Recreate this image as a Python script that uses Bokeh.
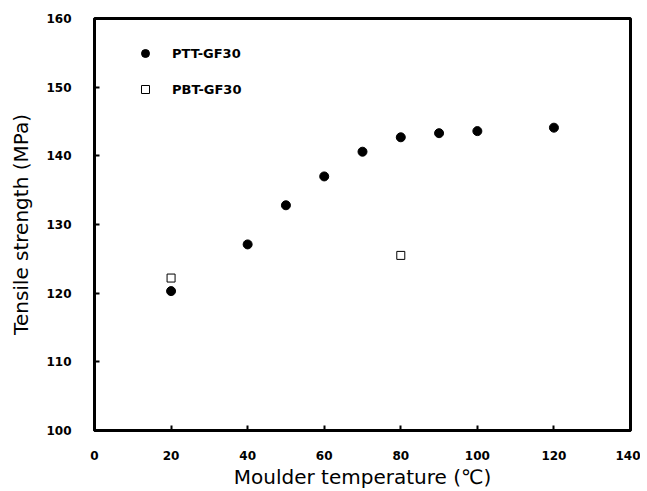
from bokeh.plotting import figure
from bokeh.models import Range1d, FixedTicker, Legend, LegendItem
from bokeh.embed import file_html
from bokeh.resources import INLINE

ptt_temp = [20, 40, 50, 60, 70, 80, 90, 100, 120]
ptt_strength = [120.3, 127.1, 132.8, 137.0, 140.6, 142.7, 143.3, 143.6, 144.1]
pbt_temp = [20, 80]
pbt_strength = [122.2, 125.5]
x_ticks = [0, 20, 40, 60, 80, 100, 120, 140]
y_ticks = [100, 110, 120, 130, 140, 150, 160]

p = figure(width=640, height=491, output_backend="svg", toolbar_location=None,
           x_range=Range1d(0, 140), y_range=Range1d(100, 160),
           min_border_left=94, min_border_right=10, min_border_top=18, min_border_bottom=61)
p.grid.visible = False
p.outline_line_color = "black"
p.outline_line_width = 3
p.background_fill_color = "white"
p.border_fill_color = "white"

r1 = p.scatter(ptt_temp, ptt_strength, marker="circle", size=9, fill_color="black", line_color="black")
r2 = p.scatter(pbt_temp, pbt_strength, marker="square", size=8, fill_color="white", line_color="black", line_width=1)

for ax, ticks in ((p.xaxis[0], x_ticks), (p.yaxis[0], y_ticks)):
    ax.ticker = FixedTicker(ticks=ticks)
    ax.axis_line_color = "black"
    ax.axis_line_width = 3
    ax.major_tick_in = 5
    ax.major_tick_out = 0
    ax.major_tick_line_width = 2
    ax.minor_tick_line_color = None
    ax.major_label_text_font = "DejaVu Sans"
    ax.major_label_text_font_style = "bold"
    ax.major_label_text_font_size = "12px"
    ax.major_label_text_color = "black"
    ax.axis_label_text_font = "DejaVu Sans"
    ax.axis_label_text_font_style = "normal"
    ax.axis_label_text_font_size = "20px"
    ax.axis_label_text_color = "black"

p.xaxis.axis_label = "Moulder temperature (\u2103)"
p.yaxis.axis_label = "Tensile strength (MPa)"
p.xaxis.major_label_standoff = 20
p.yaxis.major_label_standoff = 23
p.xaxis.axis_label_standoff = 2
p.yaxis.axis_label_standoff = 10

legend = Legend(items=[LegendItem(label="PTT-GF30", renderers=[r1]),
                       LegendItem(label="PBT-GF30", renderers=[r2])],
                location="top_left")
legend.border_line_color = None
legend.background_fill_alpha = 0
legend.label_text_font = "DejaVu Sans"
legend.label_text_font_style = "bold"
legend.label_text_font_size = "13px"
legend.label_text_color = "black"
legend.spacing = 16
legend.margin = 25
legend.padding = 15
legend.glyph_width = 52
legend.glyph_height = 20
legend.label_height = 20
legend.label_standoff = 1
p.add_layout(legend)

open("out.html", "w").write(file_html(p, INLINE))
